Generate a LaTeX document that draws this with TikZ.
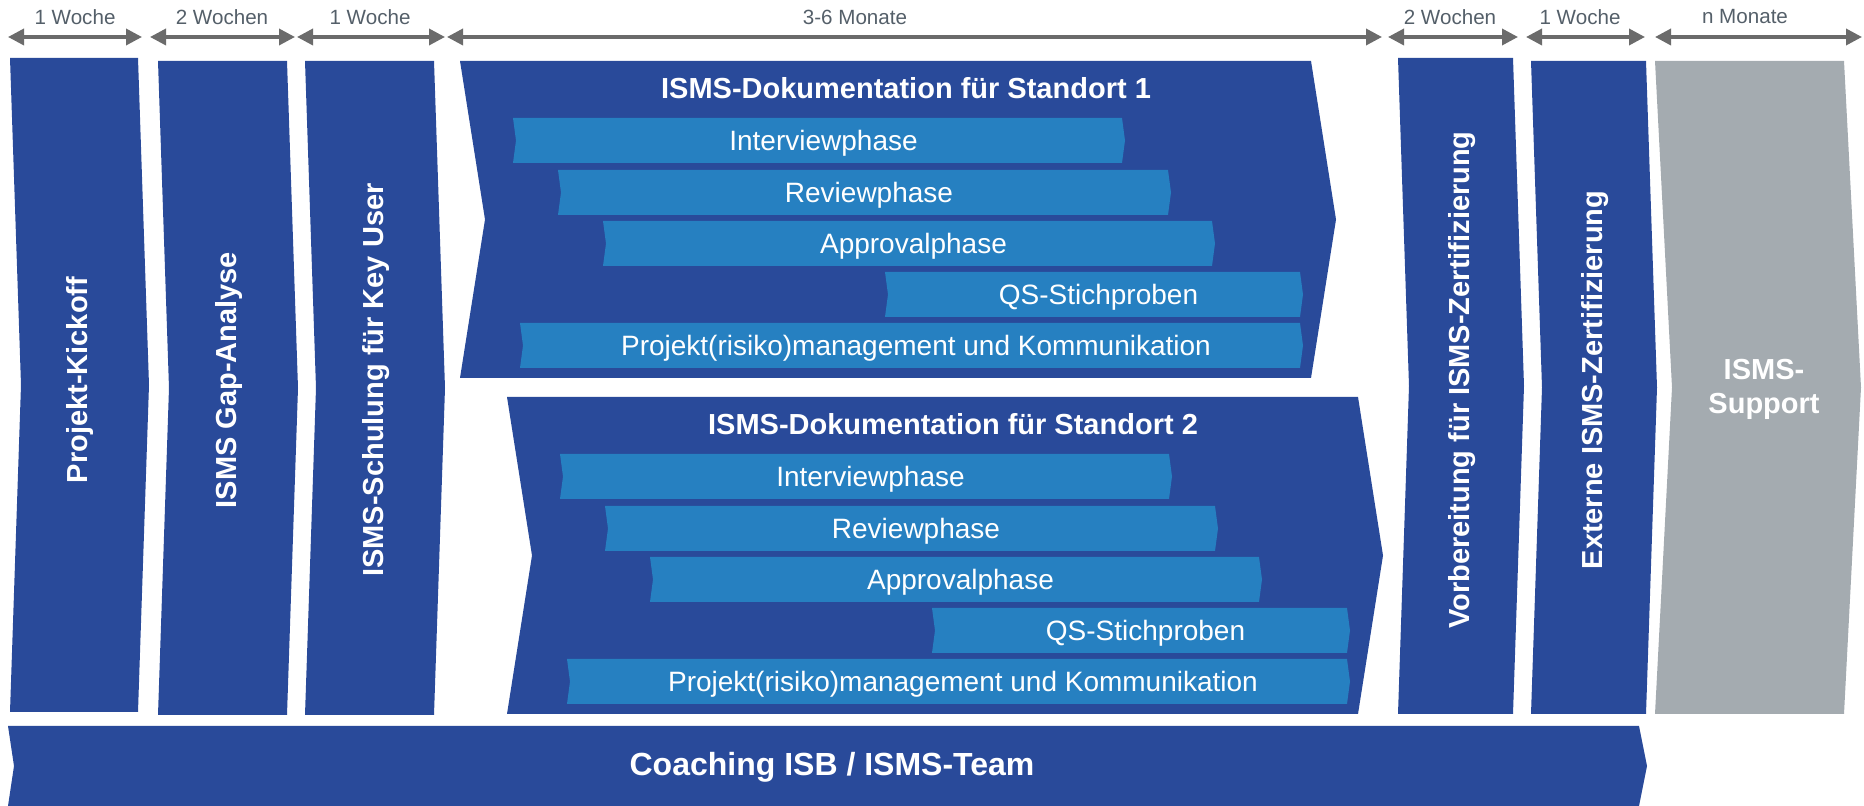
\documentclass[tikz,border=0pt]{standalone}
\usepackage{fontspec}
\setmainfont{Liberation Sans}
\usetikzlibrary{arrows.meta}

\definecolor{dunkel}{HTML}{294A9A}
\definecolor{hell}{HTML}{2680C1}
\definecolor{grau}{HTML}{A4ABB0}
\definecolor{pfeilgrau}{HTML}{6B6B6B}
\definecolor{zeitgrau}{HTML}{545F69}

% Pfeilform: Farbe, links, rechts, oben, unten, Kerbe, Spitze
\newcommand{\pfeilform}[7]{%
  \fill[#1] (#2,#4) -- (#3,#4) -- ({#3+#7},{(#4+#5)/2}) -- (#3,#5) -- (#2,#5)
    -- ({#2+#6},{(#4+#5)/2}) -- cycle;}

\begin{document}
\begin{tikzpicture}[x=0.5pt,y=-0.5pt,
  titel/.style={text=white,font=\fontsize{14.5}{17}\selectfont\bfseries},
  senkrecht/.style={titel,rotate=90},
  balken/.style={text=white,anchor=base,font=\fontsize{14}{17}\selectfont},
  zeit/.style={text=zeitgrau,font=\fontsize{10.3}{12}\selectfont},
  dauer/.style={draw=pfeilgrau,line width=1.75pt,
    {Triangle[length=8pt,width=8pt]}-{Triangle[length=8pt,width=8pt]}}]
\useasboundingbox (0,0) rectangle (1864,806);

% Zeitleiste
\foreach \name/\l/\r/\lx/\txt in {d1/8/142/75/1 Woche, d2/150/295/222/2 Wochen,
    d3/297/445/370/1 Woche, d4/447/1382/855/3-6 Monate, d5/1388/1518/1450/2 Wochen,
    d6/1526/1645/1580/1 Woche, d7/1655/1862/1745/n Monate}
{
  \coordinate (\name-l) at (\l,37);
  \coordinate (\name-r) at (\r,37);
  \draw[dauer] (\name-l) -- (\name-r);
  \node[zeit] (\name) at (\lx,17) {\txt};
}

% Phasen
\foreach \name/\l/\r/\t/\b/\txt in {kick/10/138/58/712/Projekt-Kickoff,
    gap/158/287/61/715/{ISMS Gap-Analyse},
    schul/305/434/61/715/{ISMS-Schulung für Key User},
    vorb/1398/1513/58/714/{Vorbereitung für ISMS-Zertifizierung},
    ext/1531/1646/61/714/{Externe ISMS-Zertifizierung}}
{
  \pfeilform{dunkel}{\l}{\r}{\t}{\b}{11}{11}
  \node[senkrecht] (\name) at ({(\l+\r+13)/2},380) {\txt};
}

\pfeilform{grau}{1655}{1844}{61}{714}{17}{17}
\node[titel,align=center] (support) at (1764,389) {ISMS-\\Support};

% Dokumentation je Standort
\foreach \nr/\dx/\dy in {1/0/0, 2/47/336}
{
  \begin{scope}[shift={(\dx,\dy)}]
    \pfeilform{dunkel}{460}{1311}{61}{378}{25}{25}
    \node[titel] (doku\nr) at (906,88) {ISMS-Dokumentation für Standort \nr};
    \foreach \name/\l/\r/\t/\txt in {int/513/1122/118/Interviewphase,
        rev/558/1168/170/Reviewphase, app/603/1212/221/Approvalphase,
        qs/885/1300/272/QS-Stichproben,
        pm/520/1300/323/{Projekt(risiko)management und Kommunikation}}
    {
      \pfeilform{hell}{\l}{\r}{\t}{\t+45}{3}{3}
      \node[balken] (\name\nr) at ({(\l+\r)/2+6},{\t+32.5}) {\txt};
    }
  \end{scope}
}

% Coaching
\pfeilform{dunkel}{8}{1639}{726}{806}{6}{8}
\node[titel,font=\fontsize{16}{19}\selectfont\bfseries] (coach) at (832,767) {Coaching ISB / ISMS-Team};
\end{tikzpicture}
\end{document}
